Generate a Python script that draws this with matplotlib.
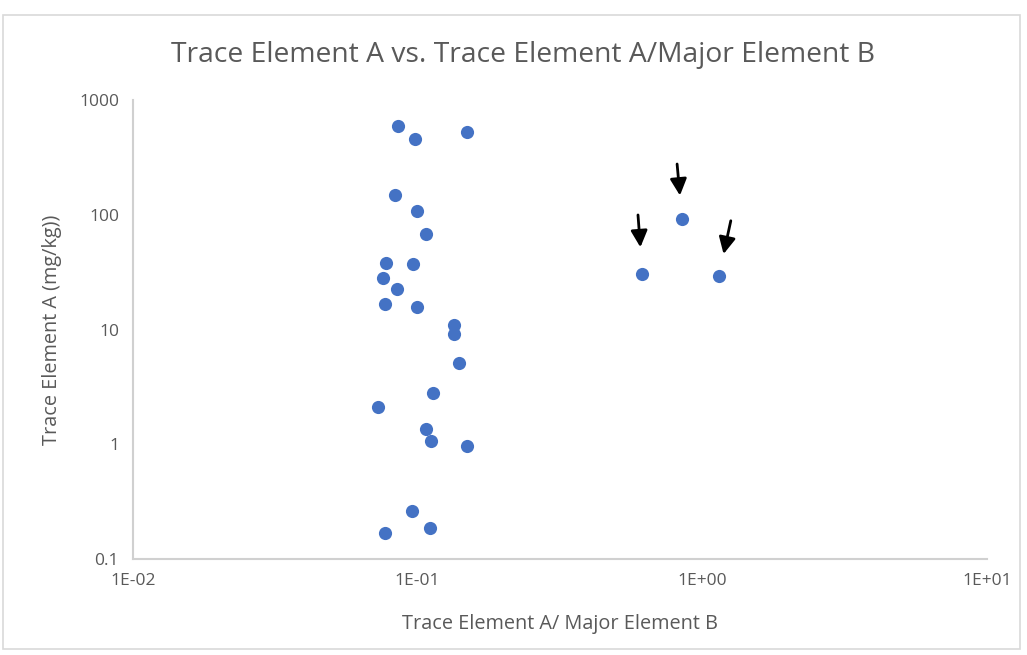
import matplotlib.pyplot as plt
from matplotlib.patches import Rectangle

# ratio of trace element A to major element B, and trace element A (mg/kg)
ratio = [0.0855, 0.0978, 0.1486, 0.0832, 0.0992, 0.107, 0.0774, 0.0965,
         0.0757, 0.0848, 0.0766, 0.0992, 0.134, 0.134, 0.140, 0.113,
         0.0725, 0.107, 0.1116, 0.1486, 0.0958, 0.1104, 0.0766,
         0.616, 0.849, 1.143]
trace_a = [593, 454, 530, 148.6, 108.5, 67.9, 37.7, 37.2,
           27.9, 22.5, 16.7, 15.6, 10.9, 9.08, 5.07, 2.78,
           2.12, 1.36, 1.07, 0.97, 0.262, 0.1875, 0.1675,
           30.3, 91.8, 29.4]

# highlighted samples (indices into the lists above)
flagged = [23, 24, 25]

x_ticks = [0.01, 0.1, 1, 10]
x_tick_labels = ["1E-02", "1E-01", "1E+00", "1E+01"]
y_ticks = [0.1, 1, 10, 100, 1000]
y_tick_labels = ["0.1", "1", "10", "100", "1000"]

plt.rcParams["font.family"] = ["Open Sans", "DejaVu Sans"]
text_color = "#595959"

fig = plt.figure(figsize=(10.27, 6.55), dpi=100)
fig.patches.append(Rectangle((3 / 1027, 6 / 655), 1017 / 1027, 634 / 655,
                             transform=fig.transFigure, fill=False,
                             edgecolor="#d9d9d9", linewidth=1.2))

ax = fig.add_axes([133 / 1027, 96 / 655, 854 / 1027, 459 / 655])
ax.scatter(ratio, trace_a, s=90, color="#4472c4", zorder=3, linewidths=0)

ax.set_xscale("log")
ax.set_yscale("log")
ax.set_xlim(0.01, 10)
ax.set_ylim(0.1, 1000)
ax.set_xticks(x_ticks)
ax.set_xticklabels(x_tick_labels)
ax.set_yticks(y_ticks)
ax.set_yticklabels(y_tick_labels)
ax.minorticks_off()
ax.tick_params(length=0, labelsize=12.5, colors=text_color, pad=10)

for side in ("top", "right"):
    ax.spines[side].set_visible(False)
for side in ("left", "bottom"):
    ax.spines[side].set_color("#d0d0d0")
    ax.spines[side].set_linewidth(1.5)

# arrows pointing at the flagged samples: (tail offset in points, gap in points)
arrow_specs = [((-3.2, 42.7), 19.5), ((-3.6, 39.6), 17), ((8.6, 39.6), 16)]
for idx, (offset, gap) in zip(flagged, arrow_specs):
    ax.annotate("", xy=(ratio[idx], trace_a[idx]), xytext=offset,
                textcoords="offset points",
                arrowprops=dict(arrowstyle="-|>,head_length=1.0,head_width=0.5",
                                color="black", lw=2.0, shrinkA=0, shrinkB=gap))

fig.text(523 / 1027, 1 - 55 / 655, "Trace Element A vs. Trace Element A/Major Element B",
         fontsize=20.3, color=text_color, ha="center", va="center")
ax.set_xlabel("Trace Element A/ Major Element B", fontsize=14.3, color=text_color, labelpad=18)
ax.set_ylabel("Trace Element A (mg/kg))", fontsize=14.3, color=text_color, labelpad=12)

fig.savefig("out.png", dpi=100, facecolor="white")
